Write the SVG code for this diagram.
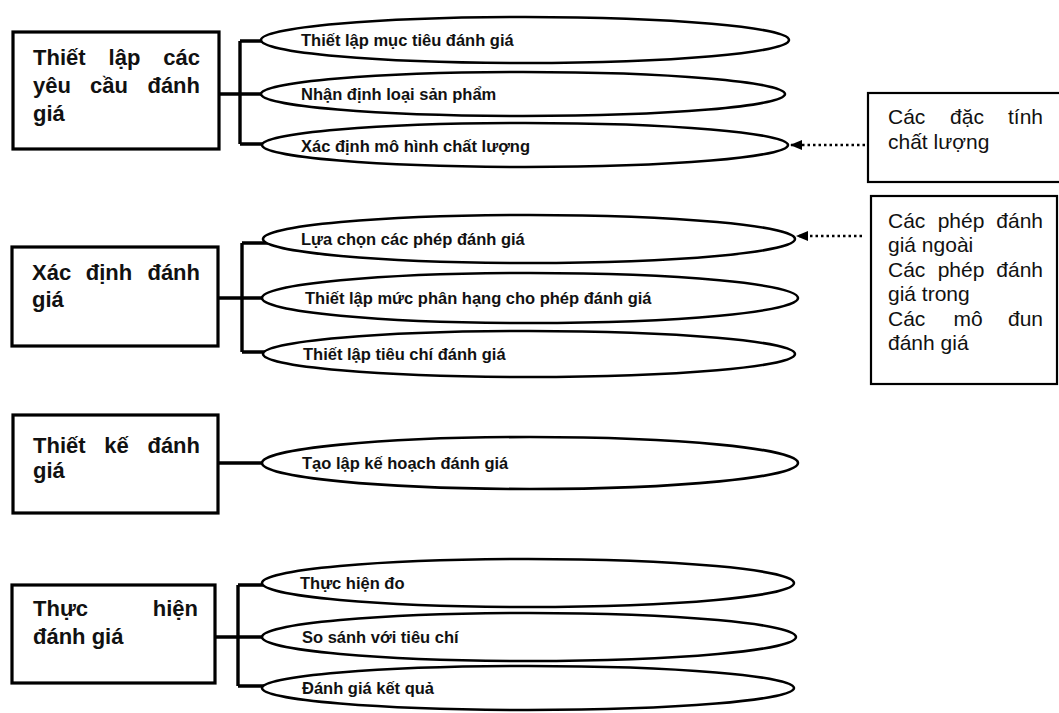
<svg xmlns="http://www.w3.org/2000/svg" width="1059" height="713" viewBox="0 0 1059 713">
<style>
.box{fill:#fff;stroke:#000;stroke-width:3.2}
.sbox{fill:#fff;stroke:#000;stroke-width:2.2}
.ell{fill:#fff;stroke:#000;stroke-width:2.6}
.br{fill:none;stroke:#000;stroke-width:3.4}
.dot{fill:none;stroke:#000;stroke-width:2.6;stroke-dasharray:2.5 3}
.t{font-family:"Liberation Sans",Arial,sans-serif;font-weight:bold;font-size:22px;fill:#111}
.e{font-family:"Liberation Sans",Arial,sans-serif;font-weight:bold;font-size:16.5px;fill:#111}
.n{font-family:"Liberation Sans",Arial,sans-serif;font-size:21px;fill:#111}
.m{text-anchor:middle}
.r{text-anchor:end}
</style>
<defs>
<marker id="ah" viewBox="0 0 12 10" refX="12" refY="5" markerWidth="12" markerHeight="10" markerUnits="userSpaceOnUse" orient="auto">
<path d="M0,0 L12,5 L0,10 z" fill="#000"/>
</marker>
</defs>
<rect width="1059" height="713" fill="#fff"/>
<g id="connectors">
<path class="br" d="M219,94 H266 M240,41 V144 M240,41 H266 M240,144 H266"/>
<path class="br" d="M218,298 H266 M242,243 V352 M242,243 H268 M242,352 H266"/>
<path class="br" d="M218,463 H266"/>
<path class="br" d="M215,637 H266 M238,585 V686 M238,585 H266 M238,686 H266"/>
</g>
<g id="g1-main"><rect class="box" x="13" y="32" width="206" height="117"/>
<text class="t"><tspan x="33" y="65">Thiết</tspan><tspan class="m" x="124.5" y="65">lập</tspan><tspan class="r" x="200" y="65">các</tspan><tspan x="33" y="93">yêu</tspan><tspan class="m" x="109" y="93">cầu</tspan><tspan class="r" x="200" y="93">đánh</tspan><tspan x="33" y="121">giá</tspan></text></g>
<g id="g1-e1"><ellipse class="ell" cx="525" cy="40" rx="264" ry="23"/><text class="e" x="301" y="46">Thiết lập mục tiêu đánh giá</text></g>
<g id="g1-e2"><ellipse class="ell" cx="523" cy="94" rx="262" ry="22"/><text class="e" x="301" y="100">Nhận định loại sản phẩm</text></g>
<g id="g1-e3"><ellipse class="ell" cx="525" cy="145" rx="263" ry="22"/><text class="e" x="301" y="152">Xác định mô hình chất lượng</text></g>
<g id="g2-main"><rect class="box" x="12" y="247" width="206" height="99"/>
<text class="t"><tspan x="32" y="280">Xác</tspan><tspan class="m" x="109" y="280">định</tspan><tspan class="r" x="200" y="280">đánh</tspan><tspan x="32" y="307">giá</tspan></text></g>
<g id="g2-e1"><ellipse class="ell" cx="529" cy="239" rx="266" ry="24"/><text class="e" x="301" y="245">Lựa chọn các phép đánh giá</text></g>
<g id="g2-e2"><ellipse class="ell" cx="530" cy="298" rx="268" ry="25"/><text class="e" x="305" y="304">Thiết lập mức phân hạng cho phép đánh giá</text></g>
<g id="g2-e3"><ellipse class="ell" cx="529" cy="354" rx="266" ry="23"/><text class="e" x="303" y="360">Thiết lập tiêu chí đánh giá</text></g>
<g id="g3-main"><rect class="box" x="13" y="415" width="205" height="98"/>
<text class="t"><tspan x="33" y="453">Thiết</tspan><tspan class="m" x="116.5" y="453">kế</tspan><tspan class="r" x="200" y="453">đánh</tspan><tspan x="33" y="478">giá</tspan></text></g>
<g id="g3-e1"><ellipse class="ell" cx="530" cy="463" rx="268" ry="26"/><text class="e" x="302" y="469">Tạo lập kế hoạch đánh giá</text></g>
<g id="g4-main"><rect class="box" x="12" y="585" width="203" height="98"/>
<text class="t"><tspan x="33" y="616">Thực</tspan><tspan class="r" x="198" y="616">hiện</tspan><tspan x="33" y="644">đánh giá</tspan></text></g>
<g id="g4-e1"><ellipse class="ell" cx="528" cy="583" rx="266" ry="24"/><text class="e" x="300" y="589">Thực hiện đo</text></g>
<g id="g4-e2"><ellipse class="ell" cx="529" cy="637" rx="267" ry="24"/><text class="e" x="302" y="643">So sánh với tiêu chí</text></g>
<g id="g4-e3"><ellipse class="ell" cx="528" cy="688" rx="266" ry="22"/><text class="e" x="302" y="694">Đánh giá kết quả</text></g>
<g id="side-a"><rect class="sbox" x="868" y="93" width="200" height="89"/>
<text class="n"><tspan x="888" y="124">Các</tspan><tspan class="m" x="967" y="124">đặc</tspan><tspan class="r" x="1043" y="124">tính</tspan><tspan x="888" y="149">chất lượng</tspan></text></g>
<g id="side-b"><rect class="sbox" x="871" y="196" width="186" height="188"/>
<text class="n"><tspan x="888" y="228">Các</tspan><tspan class="m" x="961" y="228">phép</tspan><tspan class="r" x="1043" y="228">đánh</tspan><tspan x="888" y="252">giá ngoài</tspan><tspan x="888" y="277">Các</tspan><tspan class="m" x="961" y="277">phép</tspan><tspan class="r" x="1043" y="277">đánh</tspan><tspan x="888" y="301">giá trong</tspan><tspan x="888" y="326">Các</tspan><tspan class="m" x="968" y="326">mô</tspan><tspan class="r" x="1043" y="326">đun</tspan><tspan x="888" y="350">đánh giá</tspan></text></g>
<g id="arrows">
<path class="dot" d="M865,145 H790" marker-end="url(#ah)"/>
<path class="dot" d="M862,236 H796" marker-end="url(#ah)"/>
</g>
</svg>
